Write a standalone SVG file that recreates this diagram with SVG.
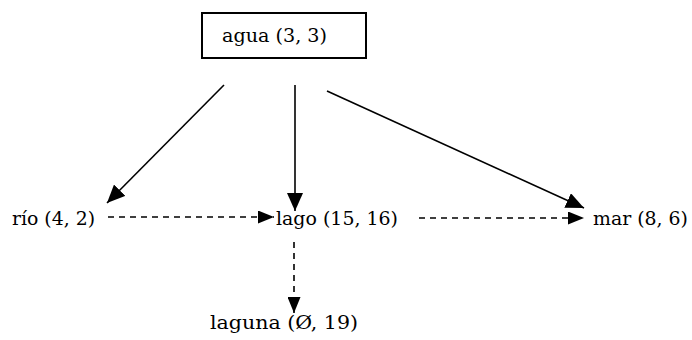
<svg xmlns="http://www.w3.org/2000/svg" width="692" height="340" viewBox="0 0 692 340">
  <style>
    .lbl { font-family: "DejaVu Serif", "Liberation Serif", serif; font-size: 19px; fill: #000; }
    .edge { stroke: #000; stroke-width: 1.6; fill: none; }
    .dash { stroke-dasharray: 6 5; }
  </style>
  <defs>
    <!-- solid edges: wide head -->
    <marker id="head" viewBox="0 0 18 16" refX="18" refY="8" markerWidth="18" markerHeight="16" markerUnits="userSpaceOnUse" orient="auto">
      <path d="M0,0 L18,8 L0,16 Z" fill="#000"/>
    </marker>
    <!-- dashed edges: narrower head -->
    <marker id="headDash" viewBox="0 0 16 13" refX="16" refY="6.5" markerWidth="16" markerHeight="13" markerUnits="userSpaceOnUse" orient="auto">
      <path d="M0,0 L16,6.5 L0,13 Z" fill="#000"/>
    </marker>
  </defs>

  <g id="agua">
    <rect x="202" y="13" width="164" height="45" fill="#fff" stroke="#000" stroke-width="2"/>
    <text class="lbl" x="222" y="42" textLength="105" lengthAdjust="spacingAndGlyphs">agua (3, 3)</text>
  </g>
  <g id="rio">
    <text class="lbl" x="12" y="225" textLength="83" lengthAdjust="spacingAndGlyphs">río (4, 2)</text>
  </g>
  <g id="lago">
    <text class="lbl" x="276" y="225" textLength="122" lengthAdjust="spacingAndGlyphs">lago (15, 16)</text>
  </g>
  <g id="mar">
    <text class="lbl" x="593" y="225" textLength="95" lengthAdjust="spacingAndGlyphs">mar (8, 6)</text>
  </g>
  <g id="laguna">
    <text class="lbl" x="210" y="329" textLength="148" lengthAdjust="spacingAndGlyphs">laguna (Ø, 19)</text>
  </g>

  <g id="connectors">
    <line class="edge" x1="224" y1="85" x2="107" y2="203" marker-end="url(#head)"/>
    <line class="edge" x1="295" y1="85" x2="295" y2="211" marker-end="url(#head)"/>
    <line class="edge" x1="327" y1="91" x2="584" y2="208" marker-end="url(#head)"/>
    <line class="edge dash" x1="108" y1="217" x2="274" y2="217" marker-end="url(#headDash)"/>
    <line class="edge dash" x1="419" y1="218" x2="584" y2="218" marker-end="url(#headDash)"/>
    <line class="edge dash" x1="294" y1="242" x2="294" y2="313" marker-end="url(#headDash)"/>
  </g>
</svg>
